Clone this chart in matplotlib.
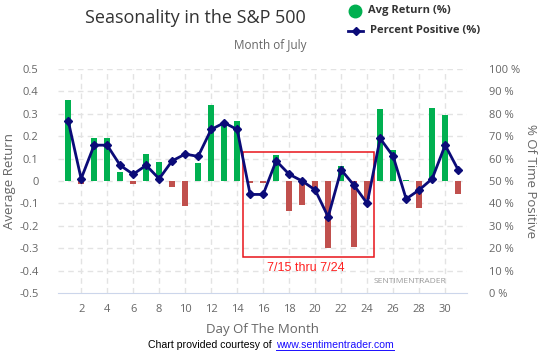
import numpy as np
import matplotlib
matplotlib.use('Agg')
import matplotlib.pyplot as plt
from matplotlib.lines import Line2D
from matplotlib.patches import Rectangle

# daily seasonality for July
days = list(range(1, 32))
avg_return = [0.36, -0.015, 0.19, 0.19, 0.04, -0.012, 0.12, 0.085, -0.027, -0.11,
              0.082, 0.338, 0.255, 0.269, -0.01, -0.01, 0.118, -0.133, -0.106, -0.035,
              -0.30, 0.067, -0.296, -0.082, 0.322, 0.138, 0.005, -0.12, 0.327, 0.295,
              -0.058]
pct_positive = [77, 51, 66, 66, 57, 53, 57, 51, 59, 62,
                61, 73, 76, 73, 44, 44, 59, 53, 50, 46,
                34, 55, 48, 40, 69, 61, 42, 46, 51, 66,
                55]
left_ticks = [0.5, 0.4, 0.3, 0.2, 0.1, 0, -0.1, -0.2, -0.3, -0.4, -0.5]
left_labels = ['0.5', '0.4', '0.3', '0.2', '0.1', '0', '-0.1', '-0.2', '-0.3', '-0.4', '-0.5']
right_ticks = list(range(0, 101, 10))
x_ticks = list(range(2, 31, 2))
window = (15, 24)

W, H = 539, 351
fig = plt.figure(figsize=(W / 100, H / 100), dpi=100)
ax = fig.add_axes([58 / W, 1 - 293 / H, (467 - 58) / W, (293 - 69) / H])
ax2 = ax.twinx()

txt_gray = '#666666'
grid_c = '#e3e3e3'
green = '#00b050'
red = '#c0504d'
navy = '#0b0b78'

colors = [green if v >= 0 else red for v in avg_return]
ax.bar(days, avg_return, width=0.46, color=colors, zorder=2)

ax.set_xlim(0.22, 31.68)
ax.set_ylim(-0.5, 0.5)
ax.set_yticks(left_ticks)
ax.set_yticklabels(left_labels)
ax.set_xticks(x_ticks)
for y in left_ticks:
    if y != -0.5:
        ax.axhline(y, color=grid_c, lw=1, ls=(0, (4, 3)), zorder=0)
for x in x_ticks:
    ax.axvline(x, color=grid_c, lw=1, ls=(0, (4, 3)), zorder=0)

for s in ['top', 'left', 'right']:
    ax.spines[s].set_visible(False)
    ax2.spines[s].set_visible(False)
ax.spines['bottom'].set_color('#ccd6eb')
ax2.spines['bottom'].set_visible(False)
ax.tick_params(axis='y', length=0, labelsize=8, labelcolor=txt_gray, pad=14)
ax.tick_params(axis='x', length=0, labelsize=8, labelcolor=txt_gray, pad=8)

ax2.plot(days, pct_positive, color=navy, lw=2, marker='D', markersize=4.3, zorder=3)
ax2.set_ylim(0, 100)
ax2.set_yticks(right_ticks)
ax2.set_yticklabels(['%d %%' % t for t in right_ticks])
ax2.tick_params(axis='y', length=0, labelsize=8, labelcolor=txt_gray, pad=16)

for a in (ax, ax2):
    for lbl in a.get_xticklabels() + a.get_yticklabels():
        lbl.set_fontfamily('Open Sans')

ax.set_ylabel('Average Return', fontsize=9.5, color=txt_gray, family='Open Sans', labelpad=2)
ax2.set_ylabel('% Of Time Positive', fontsize=9.5, color=txt_gray, family='Open Sans',
               rotation=270, labelpad=12)
ax.set_xlabel('Day Of The Month', fontsize=9.5, color=txt_gray, family='Open Sans', labelpad=6)

# highlighted window
ax.add_patch(Rectangle((window[0] - 0.52, -0.338), window[1] - window[0] + 1.08, 0.468,
                       fill=False, edgecolor='#e8141a', lw=1.1, zorder=4))
ax.text(19.25, -0.39, '7/15 thru 7/24', color='#ff2020', fontsize=9, ha='center',
        va='center', family='Liberation Sans')
ax.text(27.3, -0.45, 'SENTIMENTRADER', color='#999999', fontsize=6, ha='center',
        va='center', family='Open Sans')

# titles
fig.text(306 / W, 1 - 18 / H, 'Seasonality in the S&P 500', fontsize=13, color='#333333',
         ha='right', va='center', family='Open Sans')
fig.text(306 / W, 1 - 45 / H, 'Month of July', fontsize=8.5, color=txt_gray,
         ha='right', va='center', family='Open Sans')

# legend
fig.add_artist(Line2D([355 / W], [1 - 11 / H], marker='o', markersize=9, color=green, lw=0))
fig.text(368 / W, 1 - 11 / H, 'Avg Return (%)', fontsize=8, weight='bold', color='#333333',
         ha='left', va='center', family='Open Sans')
fig.add_artist(Line2D([348 / W, 363 / W], [1 - 31 / H, 1 - 31 / H], color=navy, lw=2))
fig.add_artist(Line2D([355.5 / W], [1 - 31 / H], marker='D', markersize=4, color=navy, lw=0))
fig.text(370 / W, 1 - 31 / H, 'Percent Positive (%)', fontsize=8, weight='bold', color='#333333',
         ha='left', va='center', family='Open Sans')

# footer
t1 = fig.text(275 / W, 1 - 345 / H, 'Chart provided courtesy of ', fontsize=7.6, color='black',
              ha='right', va='center', family='Liberation Sans')
t2 = fig.text(276 / W, 1 - 345 / H, 'www.sentimentrader.com', fontsize=7.6, color='#1a0dff',
              ha='left', va='center', family='Liberation Sans')
fig.canvas.draw()
bb = t2.get_window_extent()
fig.add_artist(Line2D([bb.x0 / W, bb.x1 / W], [(bb.y0 + 0.5) / H, (bb.y0 + 0.5) / H],
                      color='#1a0dff', lw=0.7))

fig.savefig('out.png', dpi=100)
